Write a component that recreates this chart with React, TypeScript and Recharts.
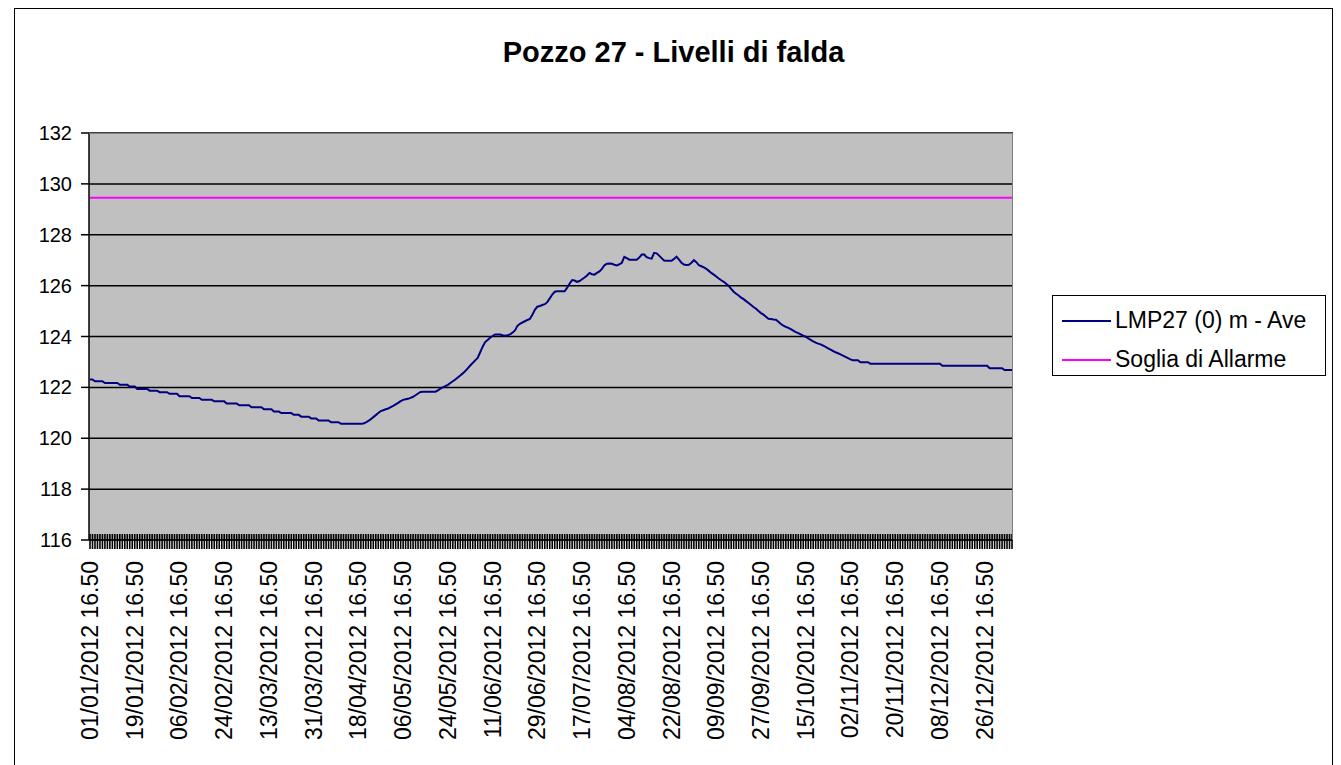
import { CartesianGrid, Legend, Line, LineChart, XAxis, YAxis } from "recharts";

const FONT = '"Liberation Sans", Arial, sans-serif';

// daily readings, always taken at 16.50, from 01/01/2012
const START_DAY = Date.UTC(2012, 0, 1);
const DAY_COUNT = 372;
const LABEL_EVERY = 18;

function dayLabel(i: number) {
  const d = new Date(START_DAY + i * 86400000);
  const dd = String(d.getUTCDate()).padStart(2, "0");
  const mm = String(d.getUTCMonth() + 1).padStart(2, "0");
  return `${dd}/${mm}/${d.getUTCFullYear()} 16.50`;
}

const dates = Array.from({ length: DAY_COUNT }, (_, i) => dayLabel(i));

// LMP27 (0) m - Ave
const levels = [
  122.31, 122.31, 122.24, 122.24, 122.24, 122.24, 122.17, 122.17, 122.17, 122.17,
  122.17, 122.17, 122.1, 122.1, 122.1, 122.1, 122.03, 122.03, 122.03, 121.94,
  121.94, 121.94, 121.94, 121.94, 121.87, 121.87, 121.87, 121.87, 121.81, 121.81,
  121.81, 121.81, 121.75, 121.75, 121.75, 121.75, 121.65, 121.65, 121.65, 121.65,
  121.65, 121.58, 121.58, 121.58, 121.58, 121.51, 121.51, 121.51, 121.51, 121.51,
  121.45, 121.45, 121.45, 121.45, 121.45, 121.37, 121.37, 121.37, 121.37, 121.37,
  121.3, 121.3, 121.3, 121.3, 121.3, 121.22, 121.22, 121.22, 121.22, 121.22,
  121.14, 121.14, 121.14, 121.14, 121.05, 121.05, 121.05, 120.99, 120.99, 120.99,
  120.99, 120.99, 120.92, 120.92, 120.92, 120.85, 120.85, 120.85, 120.85, 120.78,
  120.78, 120.78, 120.7, 120.7, 120.7, 120.7, 120.7, 120.63, 120.63, 120.63,
  120.63, 120.57, 120.57, 120.57, 120.57, 120.57, 120.57, 120.57, 120.57, 120.57,
  120.58, 120.62, 120.68, 120.75, 120.83, 120.91, 120.99, 121.07, 121.1, 121.14,
  121.17, 121.22, 121.27, 121.33, 121.39, 121.46, 121.51, 121.53, 121.55, 121.59,
  121.63, 121.69, 121.76, 121.82, 121.83, 121.83, 121.83, 121.83, 121.83, 121.83,
  121.88, 121.95, 122.0, 122.05, 122.1, 122.17, 122.24, 122.31, 122.39, 122.47,
  122.55, 122.64, 122.75, 122.86, 122.96, 123.06, 123.16, 123.38, 123.6, 123.78,
  123.86, 123.95, 124.02, 124.08, 124.08, 124.08, 124.05, 124.03, 124.05, 124.08,
  124.15, 124.24, 124.42, 124.5, 124.55, 124.6, 124.65, 124.69, 124.85, 125.05,
  125.17, 125.2, 125.24, 125.27, 125.35, 125.5, 125.65, 125.76, 125.78, 125.78,
  125.78, 125.78, 125.92, 126.08, 126.22, 126.2, 126.15, 126.18, 126.25, 126.32,
  126.4, 126.5, 126.45, 126.43, 126.5, 126.56, 126.66, 126.8, 126.86, 126.87,
  126.86, 126.82, 126.79, 126.84, 126.9, 127.13, 127.08, 127.02, 127.02, 127.02,
  127.02, 127.1, 127.22, 127.22, 127.12, 127.08, 127.06, 127.29, 127.27, 127.18,
  127.08, 126.99, 126.98, 126.98, 126.98, 127.05, 127.14, 127.02, 126.9, 126.83,
  126.81, 126.82, 126.9, 127.0, 126.92, 126.8, 126.76, 126.72, 126.66, 126.58,
  126.5, 126.43, 126.36, 126.28, 126.21, 126.15, 126.07, 125.99, 125.87, 125.76,
  125.68, 125.61, 125.53, 125.47, 125.39, 125.32, 125.24, 125.16, 125.09, 125.0,
  124.92, 124.86, 124.78, 124.7, 124.69, 124.67, 124.66, 124.58, 124.49, 124.43,
  124.38, 124.34, 124.29, 124.23, 124.17, 124.13, 124.08, 124.03, 123.99, 123.93,
  123.87, 123.81, 123.76, 123.72, 123.69, 123.64, 123.59, 123.53, 123.48, 123.43,
  123.38, 123.34, 123.3, 123.25, 123.2, 123.15, 123.1, 123.07, 123.07, 123.07,
  122.99, 122.99, 122.99, 122.99, 122.93, 122.93, 122.93, 122.93, 122.93, 122.93,
  122.93, 122.93, 122.93, 122.93, 122.93, 122.93, 122.93, 122.93, 122.93, 122.93,
  122.93, 122.93, 122.93, 122.93, 122.93, 122.93, 122.93, 122.93, 122.93, 122.93,
  122.93, 122.93, 122.93, 122.85, 122.85, 122.85, 122.85, 122.85, 122.85, 122.85,
  122.85, 122.85, 122.85, 122.85, 122.85, 122.85, 122.85, 122.85, 122.85, 122.85,
  122.85, 122.85, 122.75, 122.75, 122.75, 122.75, 122.75, 122.75, 122.68, 122.68,
  122.68, 122.68,
];

// Soglia di Allarme
const SOGLIA = 129.45;

const yTicks = [116, 118, 120, 122, 124, 126, 128, 130, 132];

const seriesNames = ["LMP27 (0) m - Ave", "Soglia di Allarme"];
const seriesColors = ["#000080", "#FF00FF"];

const data = dates.map((date, i) => ({
  date,
  level: levels[i],
  soglia: SOGLIA,
}));

function DateTick(props: any) {
  const { x, y, index, payload } = props;
  return (
    <g>
      <line x1={x} x2={x} y1={y - 6} y2={y + 9} stroke="#000" strokeWidth={1.6} />
      {index % LABEL_EVERY === 0 && (
        <text
          transform={`translate(${x + 8},${y + 21}) rotate(-90)`}
          textAnchor="end"
          fontSize={23}
          fontFamily={FONT}
          fill="#000"
        >
          {payload.value}
        </text>
      )}
    </g>
  );
}

function LegendBox() {
  return (
    <div
      style={{
        width: 274,
        height: 81,
        boxSizing: "border-box",
        border: "1px solid #000",
        background: "#fff",
        paddingTop: 5,
        fontFamily: FONT,
        fontSize: 23,
        color: "#000",
      }}
    >
      {seriesNames.map((name, i) => (
        <div
          key={name}
          style={{ display: "flex", alignItems: "center", height: 39, whiteSpace: "nowrap" }}
        >
          <span
            style={{
              display: "inline-block",
              width: 49,
              height: 0,
              borderTop: `2px solid ${seriesColors[i]}`,
              marginLeft: 9,
              marginRight: 4,
            }}
          />
          <span>{name}</span>
        </div>
      ))}
    </div>
  );
}

export default function App() {
  return (
    <div
      style={{
        position: "fixed",
        left: 0,
        top: 0,
        width: 1341,
        height: 765,
        overflow: "hidden",
        background: "#fff",
      }}
    >
      <div
        style={{
          position: "absolute",
          left: 14,
          top: 8,
          width: 1317,
          height: 800,
          border: "1px solid #000",
          background: "#fff",
        }}
      >
        <div
          style={{
            position: "absolute",
            left: 0,
            top: 28.5,
            width: 1317,
            textAlign: "center",
            fontFamily: FONT,
            fontWeight: "bold",
            fontSize: 29,
            lineHeight: "29px",
            color: "#000",
          }}
        >
          Pozzo 27 - Livelli di falda
        </div>
        <LineChart
          width={1317}
          height={756}
          data={data}
          margin={{ top: 124, right: 319, bottom: 0, left: 0 }}
        >
          <CartesianGrid
            vertical={false}
            stroke="#000"
            strokeWidth={1.5}
            fill="#C0C0C0"
            fillOpacity={1}
          />
          <XAxis
            dataKey="date"
            interval={0}
            height={225}
            padding={{ left: 1, right: 1 }}
            tick={<DateTick />}
            tickLine={false}
            tickSize={0}
            tickMargin={0}
            axisLine={{ stroke: "#000", strokeWidth: 1 }}
          />
          <YAxis
            type="number"
            domain={[116, 132]}
            ticks={yTicks}
            interval={0}
            width={74}
            tickSize={8}
            tickMargin={9}
            tickLine={{ stroke: "#000", strokeWidth: 1.5 }}
            axisLine={{ stroke: "#000", strokeWidth: 1.5 }}
            tick={{ fill: "#000", fontSize: 20, fontFamily: FONT }}
          />
          <Legend
            layout="horizontal"
            align="center"
            verticalAlign="middle"
            content={<LegendBox />}
            wrapperStyle={{ left: 1037, top: 286, width: 274, height: 81 }}
          />
          <Line
            dataKey="level"
            name={seriesNames[0]}
            stroke={seriesColors[0]}
            strokeWidth={2}
            dot={false}
            activeDot={false}
            type="linear"
            isAnimationActive={false}
          />
          <Line
            dataKey="soglia"
            name={seriesNames[1]}
            stroke={seriesColors[1]}
            strokeWidth={2}
            dot={false}
            activeDot={false}
            type="linear"
            isAnimationActive={false}
          />
        </LineChart>
        <div
          style={{
            position: "absolute",
            left: 74,
            top: 124,
            width: 924,
            height: 407,
            boxSizing: "border-box",
            borderTop: "1px solid #808080",
            borderRight: "1px solid #808080",
            pointerEvents: "none",
          }}
        />
      </div>
    </div>
  );
}
